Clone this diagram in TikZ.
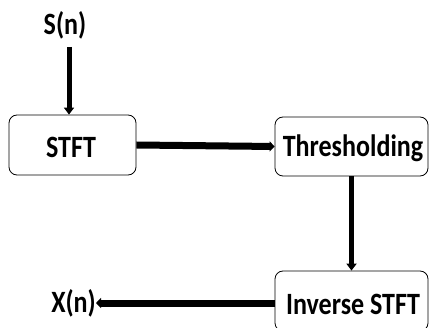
\documentclass[tikz,border=0pt]{standalone}
\usepackage{fontspec}
\setmainfont{Carlito}
\usetikzlibrary{arrows.meta}
\newcommand{\cond}[1]{\scalebox{0.84}[1]{#1}}
\begin{document}
\begin{tikzpicture}[x=1pt,y=-1pt,
  blk/.style={draw=black,line width=0.8pt,rounded corners=8pt,inner sep=0pt},
  lbl/.style={font=\fontsize{31}{33}\selectfont\bfseries,inner sep=0pt},
  thin/.style={line width=5pt,-{Triangle[length=7pt,width=10pt]}},
  thick/.style={line width=7pt,-{Triangle[length=5pt,width=10pt]}}]
\useasboundingbox (0,0) rectangle (430,328);
\node[blk,minimum width=127pt,minimum height=60pt] (stft) at (72.5,145) {};
\node[lbl] at (71,147) {\cond{STFT}};
\node[blk,minimum width=153pt,minimum height=59pt] (thr) at (351.5,146.5) {};
\node[lbl] at (353,148) {\cond{Thresholding}};
\node[blk,minimum width=153pt,minimum height=60pt] (inv) at (351.5,301) {};
\node[lbl] at (353,304) {\cond{Inverse STFT}};
\node[lbl] (s) at (65,25) {\cond{S(n)}};
\node[lbl,anchor=east] (x) at (96,303) {\cond{X(n)}};
\coordinate (sb) at (69,47);
\draw[thin] (sb) -- (stft.north -| sb);
\draw[thick] (stft.east) -- (thr.west);
\draw[thin] (thr.south) -- (inv.north);
\draw[thick] (inv.west |- x.east) -- (x.east);
\end{tikzpicture}
\end{document}
